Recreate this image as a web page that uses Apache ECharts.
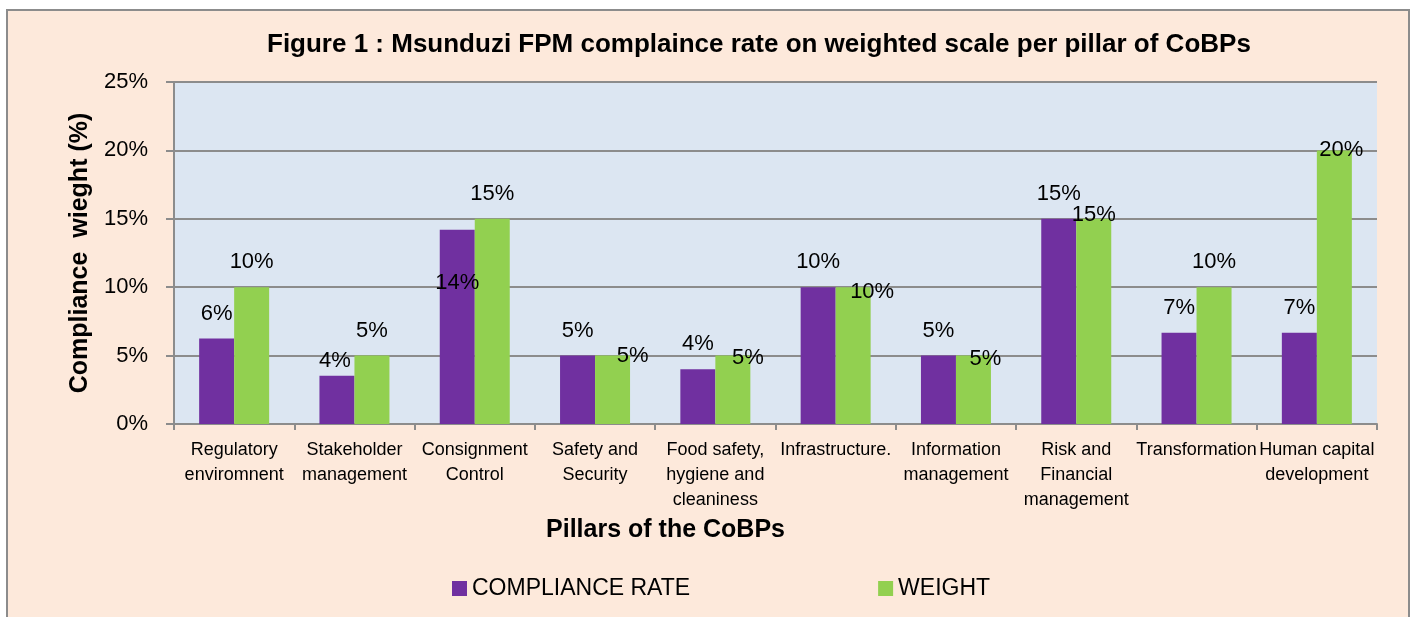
<!DOCTYPE html>
<html>
<head>
    <meta charset="utf-8">
    <title>Msunduzi FPM compliance</title>
    <style>
        html, body { margin: 0; padding: 0; background-color: #fff; }
        #charts { width: 1413px; height: 617px; }
    </style>
</head>
<body>
  <div id="charts"></div>
</body>
<script type="text/javascript" src="https://cdn.jsdelivr.net/npm/echarts@6/dist/echarts.min.js"></script>
<script type="text/javascript">

var pillars = ['Regulatory\nenviromnent', 'Stakeholder\nmanagement', 'Consignment\nControl', 'Safety and\nSecurity',
    'Food safety,\nhygiene and\ncleaniness', 'Infrastructure.', 'Information\nmanagement',
    'Risk and\nFinancial\nmanagement', 'Transformation', 'Human capital\ndevelopment'];
var complianceRate = [6.25, 3.53, 14.2, 5, 4, 10, 5, 15, 6.67, 6.67];
var weight = [10, 5, 15, 5, 5, 10, 5, 15, 10, 20];
var yTicks = [0, 5, 10, 15, 20, 25];

// label nudges (Excel labels were dragged by hand)
var rateShift = [[0, 0], [-2, 10], [0, 78], [0, 0], [0, 0], [0, 0], [0, 0], [0, 0], [0, 0], [0, 0]];
var weightShift = [[0, 0], [0, 0], [0, 0], [20, 25], [15, 27], [19, 30], [12, 28], [0, 21], [0, 0], [7, 25]];

var font = '"Liberation Sans Narrow", "Arial Narrow", "Liberation Sans", sans-serif';

function points(vals, shifts) {
    var out = [];
    for (var i = 0; i < vals.length; i++) {
        out.push({ value: vals[i], label: { offset: shifts[i] } });
    }
    return out;
}

var barLabel = {
    show: true,
    position: 'top',
    distance: 14,
    fontFamily: font,
    fontSize: 22,
    color: '#000',
    formatter: function (p) { return Math.round(p.value) + '%'; }
};

var myChart = echarts.init(document.getElementById('charts'));

var option = {
    backgroundColor: '#fff',
    animation: false,
    color: ['#7030A0', '#92D050'],
    graphic: [{
        type: 'rect',
        z: -10,
        shape: { x: 7, y: 10, width: 1402, height: 700 },
        style: { fill: '#FDE9DB', stroke: '#8c8c8c', lineWidth: 2 }
    }],
    title: {
        text: 'Figure 1 : Msunduzi FPM complaince rate on weighted scale per pillar of CoBPs',
        left: 262,
        top: 27,
        textStyle: { fontFamily: font, fontSize: 26, fontWeight: 'bold', color: '#000' }
    },
    legend: {
        data: ['COMPLIANCE RATE', 'WEIGHT'],
        left: 447,
        top: 572,
        icon: 'rect',
        itemWidth: 15,
        itemHeight: 15,
        itemGap: 188,
        textStyle: { fontFamily: font, fontSize: 23, color: '#000' }
    },
    grid: {
        left: 174,
        top: 82,
        width: 1203,
        height: 342,
        show: true,
        backgroundColor: '#DCE6F2',
        borderWidth: 0
    },
    xAxis: {
        type: 'category',
        data: pillars,
        name: 'Pillars of the CoBPs',
        nameLocation: 'middle',
        nameGap: 88,
        nameTextStyle: { fontFamily: font, fontSize: 25, fontWeight: 'bold', color: '#000', padding: [0, 220, 0, 0] },
        axisLine: { lineStyle: { color: '#8c8c8c', width: 2 } },
        axisTick: { show: true, length: 6, lineStyle: { color: '#8c8c8c', width: 2 } },
        axisLabel: { interval: 0, margin: 14, fontFamily: font, fontSize: 18, lineHeight: 25, color: '#000' },
        splitLine: { show: false }
    },
    yAxis: {
        type: 'value',
        min: yTicks[0],
        max: yTicks[yTicks.length - 1],
        interval: 5,
        name: 'Compliance  wieght (%)',
        nameLocation: 'middle',
        nameGap: 80,
        nameTextStyle: { fontFamily: font, fontSize: 25, fontWeight: 'bold', color: '#000' },
        axisLine: { show: true, lineStyle: { color: '#8c8c8c', width: 2 } },
        axisTick: { show: true, length: 8, lineStyle: { color: '#8c8c8c', width: 2 } },
        axisLabel: { margin: 26, fontFamily: font, fontSize: 22, color: '#000', formatter: '{value}%' },
        splitLine: { show: true, lineStyle: { color: '#8c8c8c', width: 2 } }
    },
    series: [
        {
            name: 'COMPLIANCE RATE',
            type: 'bar',
            barWidth: 35,
            barGap: '0%',
            data: points(complianceRate, rateShift),
            label: barLabel
        },
        {
            name: 'WEIGHT',
            type: 'bar',
            barWidth: 35,
            data: points(weight, weightShift),
            label: barLabel
        }
    ]
};

myChart.setOption(option);
</script>
</html>
